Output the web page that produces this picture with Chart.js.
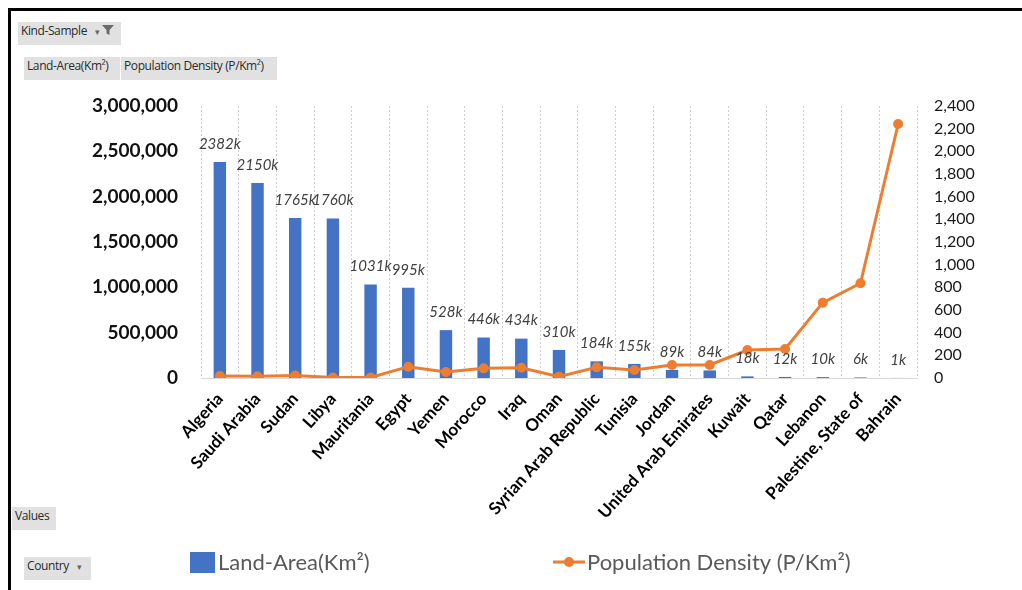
<!DOCTYPE html>
<html lang="en">

<head>
    <meta charset="UTF-8">
    <title>Land area and population density by country</title>
    <script src="https://cdn.jsdelivr.net/npm/chart.js@4.4.1/dist/chart.umd.min.js"></script>
    <style>
        body { margin: 0; background: #fff; }
        #wrap { position: relative; width: 1022px; height: 590px; overflow: hidden; }
        #frame { position: absolute; left: 8px; top: 8px; width: 1100px; height: 700px;
                 border-left: 3px solid #000; border-top: 3px solid #000; }
        .btn { position: absolute; background: #e1e1e1; color: #2b2b2b; height: 23px; line-height: 23px;
               font: 12px "Liberation Sans Narrow", "Open Sans", sans-serif; letter-spacing: -0.4px;
               padding: 0 3px; box-sizing: border-box; white-space: nowrap; }
        .btn small { color: #666; font-size: 9px; margin-left: 5px; }
        canvas { position: absolute; left: 0; top: 0; }
    </style>
</head>

<body>
    <div id="wrap">
        <canvas id="chart" width="1022" height="590"></canvas>
        <div id="frame"></div>
        <div class="btn" style="left:18px;top:22px;width:103px;">Kind-Sample <small>▾</small>
            <svg width="12" height="12" viewBox="0 0 12 12" style="vertical-align:-1px"><path d="M0 1h12L7.5 6v5l-3-1.5V6z" fill="#6b6b6b"/></svg>
        </div>
        <div class="btn" style="left:24px;top:57px;width:96px;">Land-Area(Km²)</div>
        <div class="btn" style="left:121px;top:57px;width:156px;">Population Density (P/Km²)</div>
        <div class="btn" style="left:12px;top:507px;width:44px;">Values</div>
        <div class="btn" style="left:24px;top:557px;width:67px;">Country <small>▾</small></div>
    </div>
    <script>
        const countries = ['Algeria', 'Saudi Arabia', 'Sudan', 'Libya', 'Mauritania', 'Egypt', 'Yemen', 'Morocco',
            'Iraq', 'Oman', 'Syrian Arab Republic', 'Tunisia', 'Jordan', 'United Arab Emirates', 'Kuwait', 'Qatar',
            'Lebanon', 'Palestine, State of', 'Bahrain'];
        const landArea = [2381741, 2149690, 1765048, 1759540, 1030700, 995450, 527968, 446300,
            434128, 309500, 183630, 155360, 89320, 83600, 17820, 11610, 10230, 6020, 760];
        const density = [17, 16, 22, 4, 4, 100, 53, 85, 91, 12, 94, 70, 115, 115, 247, 256, 665, 836, 2241];
        const areaTicks = { min: 0, max: 3000000, step: 500000 };
        const densityTicks = { min: 0, max: 2400, step: 200 };

        const BLUE = '#4472C4';
        const ORANGE = '#ED7D31';

        // value labels above the columns, e.g. "2382k"
        const barLabels = {
            id: 'barLabels',
            afterDatasetsDraw(chart) {
                const ctx = chart.ctx;
                const meta = chart.getDatasetMeta(0);
                ctx.save();
                ctx.font = 'italic 15px Lato';
                ctx.fillStyle = '#404040';
                ctx.textAlign = 'center';
                ctx.textBaseline = 'middle';
                meta.data.forEach((bar, i) => {
                    const v = chart.data.datasets[0].data[i];
                    ctx.fillText(Math.round(v / 1000) + 'k', bar.x, bar.y - 18);
                });
                ctx.restore();
            }
        };

        // legend along the bottom: square for the columns, line+dot for the density
        const bottomLegend = {
            id: 'bottomLegend',
            afterDraw(chart) {
                const ctx = chart.ctx;
                const [bars, line] = chart.data.datasets;
                const cy = 562;
                ctx.save();
                ctx.font = '22px Lato';
                ctx.textBaseline = 'middle';

                ctx.fillStyle = bars.backgroundColor;
                ctx.fillRect(190, cy - 10, 25, 21);
                ctx.fillStyle = '#595959';
                ctx.fillText(bars.label, 218, cy + 1);

                ctx.strokeStyle = line.borderColor;
                ctx.lineWidth = 3;
                ctx.beginPath();
                ctx.moveTo(553, cy);
                ctx.lineTo(585, cy);
                ctx.stroke();
                ctx.fillStyle = line.borderColor;
                ctx.beginPath();
                ctx.arc(569, cy, 5, 0, Math.PI * 2);
                ctx.fill();
                ctx.fillStyle = '#595959';
                ctx.fillText(line.label, 587, cy + 1);
                ctx.restore();
            }
        };

        const canvas = document.getElementById('chart');
        let chart = new Chart(canvas, {
            type: 'bar',
            data: {
                labels: countries,
                datasets: [{
                    label: 'Land-Area(Km²)',
                    data: landArea,
                    backgroundColor: BLUE,
                    yAxisID: 'y',
                    barPercentage: 0.33,
                    categoryPercentage: 1,
                    order: 1
                }, {
                    type: 'line',
                    label: 'Population Density (P/Km²)',
                    data: density,
                    borderColor: ORANGE,
                    backgroundColor: ORANGE,
                    borderWidth: 3,
                    pointRadius: 5,
                    pointBackgroundColor: ORANGE,
                    pointBorderWidth: 0,
                    tension: 0,
                    yAxisID: 'y1',
                    order: 0
                }]
            },
            options: {
                responsive: false,
                animation: false,
                devicePixelRatio: 1,
                layout: { padding: { top: 106, left: 0, right: 0, bottom: 0 } },
                plugins: {
                    legend: { display: false },
                    tooltip: { enabled: false }
                },
                scales: {
                    x: {
                        offset: true,
                        grid: { display: true, color: '#cfcfcf', drawTicks: false, offset: true },
                        border: { display: true, color: '#d9d9d9', width: 1, dash: [2, 2] },
                        ticks: {
                            autoSkip: false, minRotation: 48, maxRotation: 48, padding: 11,
                            color: '#000', font: { family: 'Lato', size: 17, weight: 'bold' }
                        },
                        afterFit(scale) { scale.height = 590 - 378; }
                    },
                    y: {
                        position: 'left',
                        min: areaTicks.min, max: areaTicks.max,
                        grid: { display: false, drawTicks: false },
                        border: { display: false },
                        ticks: {
                            stepSize: areaTicks.step, padding: 23,
                            color: '#111', font: { family: 'Lato', size: 19, weight: 'bold' }
                        },
                        afterFit(scale) { scale.width = 201; }
                    },
                    y1: {
                        position: 'right',
                        min: densityTicks.min, max: densityTicks.max,
                        grid: { display: false, drawTicks: false },
                        border: { display: false },
                        ticks: {
                            stepSize: densityTicks.step, padding: 17,
                            color: '#1a1a1a', font: { family: 'Lato', size: 16 }
                        },
                        afterFit(scale) { scale.width = 1022 - 917; }
                    }
                }
            },
            plugins: [barLabels, bottomLegend]
        });
    </script>
</body>

</html>
